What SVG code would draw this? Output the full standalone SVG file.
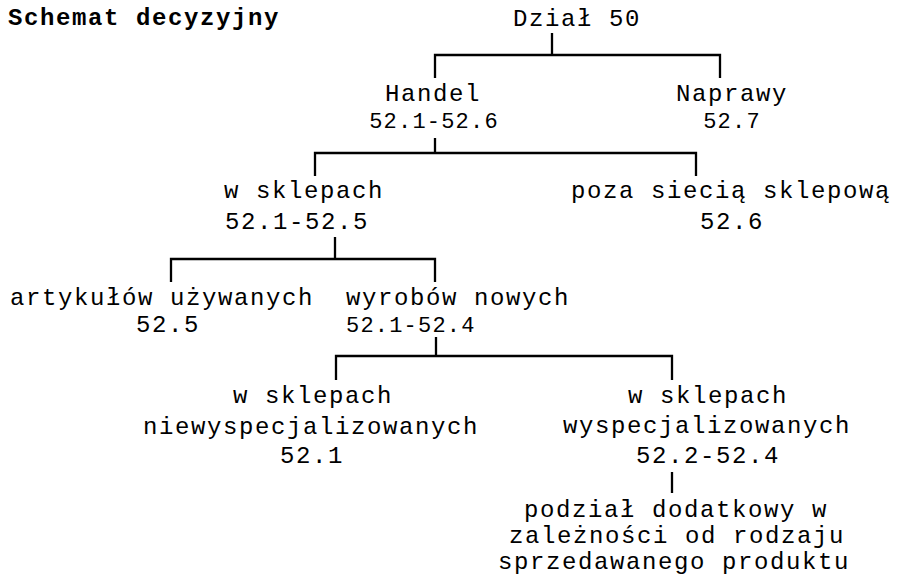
<svg xmlns="http://www.w3.org/2000/svg" width="897" height="579" viewBox="0 0 897 579">
<style>
text{font-family:"Liberation Mono","Courier New",monospace;font-size:24px;letter-spacing:1.6px;fill:#000}
.c{text-anchor:middle}
.s{font-size:22px;letter-spacing:1.2px}
.b{font-weight:bold}
.ln{fill:none;stroke:#000;stroke-width:2.3}
</style>
<rect width="897" height="579" fill="#fff"/>
<text class="b" x="8" y="25">Schemat decyzyjny</text>
<g id="connectors">
<path class="ln" d="M552,33V55M435,78V55H720V78"/>
<path class="ln" d="M435,138V153M315,176V153H696V176"/>
<path class="ln" d="M335,237V259M171,282V259H435V282"/>
<path class="ln" d="M436,337V356M336,380V356H672V380"/>
<path class="ln" d="M672,472V493"/>
</g>
<g id="dzial50"><text class="c" x="577" y="26">Dział 50</text></g>
<g id="handel"><text class="c" x="433" y="101">Handel</text><text class="c s" x="434" y="128">52.1-52.6</text></g>
<g id="naprawy"><text class="c" x="732" y="101">Naprawy</text><text class="c s" x="732" y="128">52.7</text></g>
<g id="wsklepach"><text x="224" y="198">w sklepach</text><text x="225" y="229">52.1-52.5</text></g>
<g id="poza"><text class="c" x="731" y="198">poza siecią sklepową</text><text class="c" x="732" y="229">52.6</text></g>
<g id="artykulow"><text class="c" x="162" y="305">artykułów używanych</text><text class="c" x="168" y="332">52.5</text></g>
<g id="wyrobow"><text x="346" y="305">wyrobów nowych</text><text class="s" x="346" y="332">52.1-52.4</text></g>
<g id="niewysp"><text class="c" x="313" y="403">w sklepach</text><text class="c" x="311" y="434">niewyspecjalizowanych</text><text class="c" x="312" y="463">52.1</text></g>
<g id="wysp"><text class="c" x="708" y="403">w sklepach</text><text class="c" x="707" y="433">wyspecjalizowanych</text><text class="c" x="708" y="463">52.2-52.4</text></g>
<g id="podzial"><text class="c" x="676" y="517">podział dodatkowy w</text><text class="c" x="677" y="543">zależności od rodzaju</text><text class="c" x="674" y="569">sprzedawanego produktu</text></g>
</svg>
